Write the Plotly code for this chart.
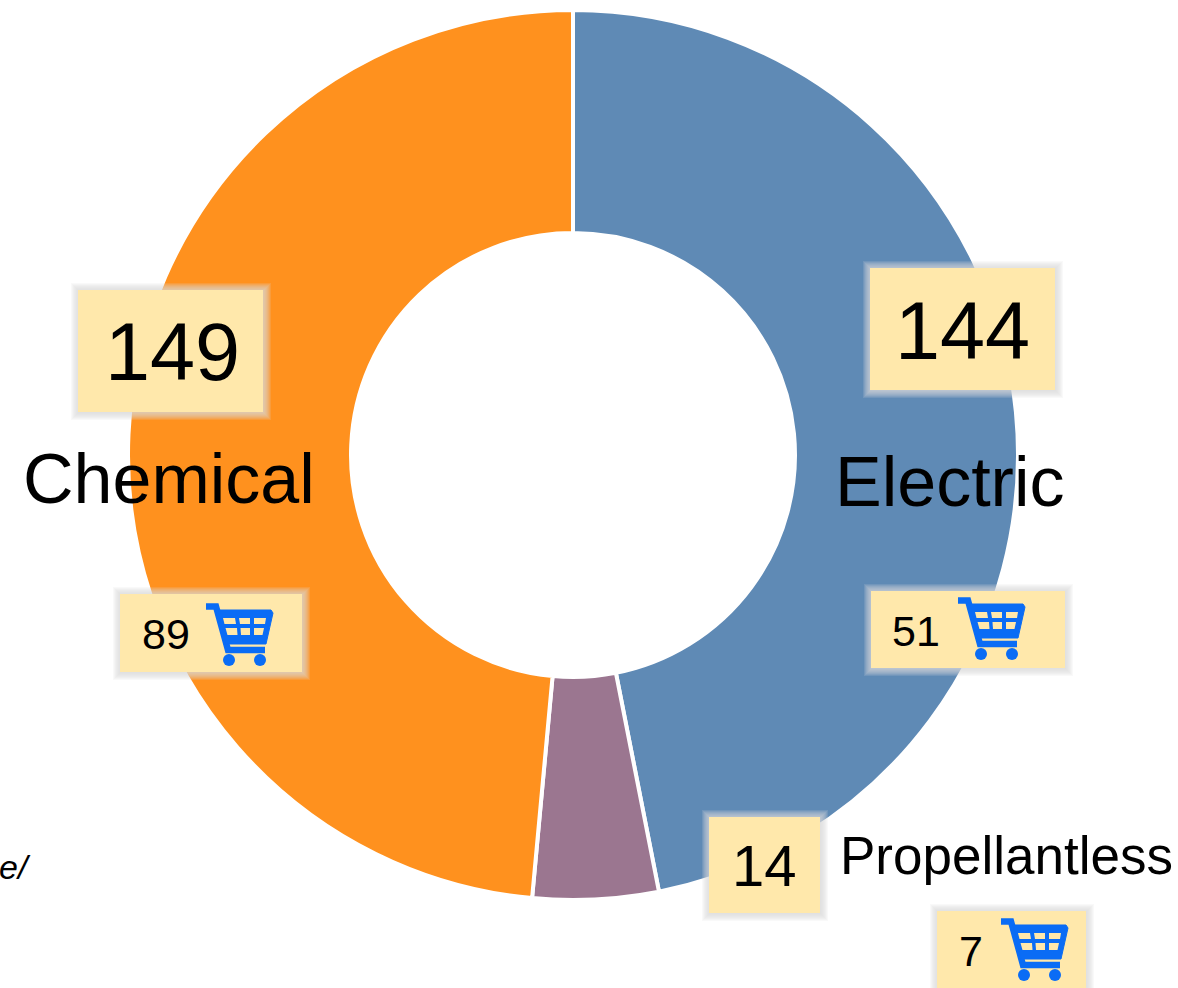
import plotly.graph_objects as go

categories = ["Electric", "Propellantless", "Chemical"]
totals = [144, 14, 149]
in_store = [51, 7, 89]
slice_colors = ["#5F8AB5", "#9B7690", "#FF911E"]

W, H = 1178, 988
CREAM = "#FFE8AB"
BLUE = "#0A6CF5"
FONT = "Liberation Sans, Arial, sans-serif"
R_OUT, R_IN = 445, 222


def px(x):
    return x / W


def py(y):
    return 1 - y / H


def rect(x0, y0, x1, y1, **kw):
    return dict(type="rect", xref="paper", yref="paper", x0=px(x0), x1=px(x1),
                y0=py(y1), y1=py(y0), **kw)


def box(x0, y0, x1, y1):
    out = []
    for g in (8, 7, 6, 5, 4, 3, 2, 1):
        out.append(rect(x0 - g + 1, y0 - g + 1, x1 + g, y1 + g, line_width=0,
                        fillcolor="rgba(215,215,215,0.16)"))
    out.append(rect(x0, y0, x1, y1, line_width=0, fillcolor=CREAM))
    return out


def path(points, close=True):
    s = " ".join(("M" if i == 0 else "L") + f"{px(a):.5f},{py(b):.5f}"
                 for i, (a, b) in enumerate(points))
    return s + (" Z" if close else "")


def cart(x, y):
    P = lambda pts: [(x + a, y + b) for a, b in pts]
    out = [
        dict(type="path", xref="paper", yref="paper", fillcolor="rgba(0,0,0,0)",
             path=path(P([(1, 3.5), (11, 3.5), (23, 47), (60, 47)]), close=False),
             line=dict(color=BLUE, width=6.5)),
        dict(type="path", xref="paper", yref="paper", fillcolor=BLUE,
             path=path(P([(13, 7), (66, 7), (68, 10), (61, 41), (21, 41)])),
             line=dict(color=BLUE, width=1)),
    ]
    holes = [
        [(18, 15), (30, 15), (31, 21), (19.5, 21)],
        [(34, 15), (45, 15), (45, 21), (35, 21)],
        [(49, 15), (61, 15), (60, 21), (49, 21)],
        [(20.5, 25), (32, 25), (32.5, 32), (22.5, 32)],
        [(35.5, 25), (45, 25), (45, 32), (36, 32)],
        [(49, 25), (59, 25), (57.5, 32), (49, 32)],
    ]
    for h in holes:
        out.append(dict(type="path", xref="paper", yref="paper", fillcolor=CREAM,
                        path=path(P(h)), line_width=0))
    for cx in (24, 55):
        out.append(dict(type="circle", xref="paper", yref="paper", fillcolor=BLUE,
                        line_width=0, x0=px(x + cx - 6), x1=px(x + cx + 6),
                        y0=py(y + 63), y1=py(y + 51)))
    return out


def label(text, x, y, size, anchor="center", italic=False):
    return dict(text=f"<i>{text}</i>" if italic else str(text), xref="paper", yref="paper",
                x=px(x), y=py(y), xanchor=anchor, yanchor="middle", showarrow=False,
                font=dict(family=FONT, size=size, color="#000000"))


fig = go.Figure(go.Pie(
    labels=categories, values=totals, sort=False, direction="clockwise", rotation=0,
    hole=R_IN / R_OUT, textinfo="none", hoverinfo="label+value",
    marker=dict(colors=slice_colors, line=dict(color="#FFFFFF", width=4)),
    domain=dict(x=[px(573 - R_OUT), px(573 + R_OUT)], y=[py(455 + R_OUT), py(455 - R_OUT)]),
))

shapes = []
shapes += box(870, 268, 1055, 390)
shapes += box(78, 290, 263, 412)
shapes += box(871, 591, 1065, 668)
shapes += box(120, 594, 302, 672)
shapes += box(709, 817, 820, 913)
shapes += box(937, 911, 1086, 995)
shapes += cart(957, 597)
shapes += cart(205, 603)
shapes += cart(1000, 918)

annotations = [
    label(totals[0], 962, 331, 81),
    label(totals[2], 172, 352, 81),
    label(categories[0], 950, 482, 70),
    label(categories[2], 169, 479, 70),
    label(in_store[0], 916, 631, 43),
    label(in_store[2], 166, 634, 43),
    label(totals[1], 764, 865, 58),
    label(categories[1], 1006, 855, 53),
    label(in_store[1], 971, 951, 43),
    label("e/", -3, 867, 34, anchor="left", italic=True),
]

fig.update_layout(
    width=W, height=H, margin=dict(l=0, r=0, t=0, b=0), showlegend=False,
    paper_bgcolor="#FFFFFF", plot_bgcolor="#FFFFFF",
    shapes=shapes, annotations=annotations,
)

fig.write_html(
    "out.html",
    config={"displayModeBar": False},
    post_script="document.body.style.margin='0';document.body.style.overflow='hidden';",
)
